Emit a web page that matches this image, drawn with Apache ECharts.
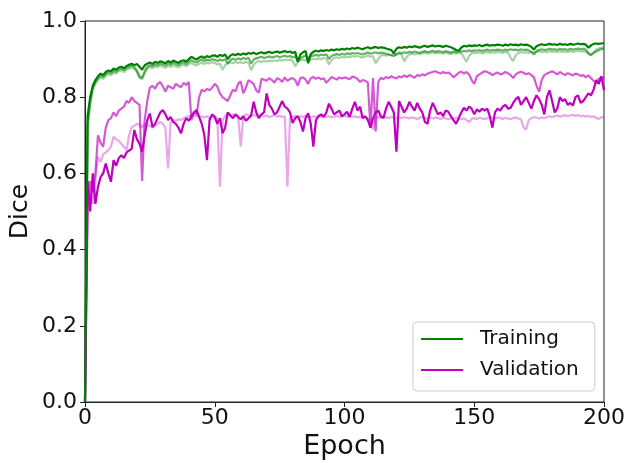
<!DOCTYPE html>
<html>
<head>
<meta charset="utf-8">
<script src="https://cdn.jsdelivr.net/npm/echarts@6/dist/echarts.min.js"></script>
<style>html,body{margin:0;padding:0;background:#fff;}#c{width:629px;height:463px;}</style>
</head>
<body>
<div id="c"></div>
<script>
// Epoch index = array position (0..200)
const xTicks = [0, 50, 100, 150, 200];
const yTicks = [0.0, 0.2, 0.4, 0.6, 0.8, 1.0];

const trainDark = [
0.00,0.75,0.80,0.83,0.845,0.855,0.862,0.858,0.866,0.870,
0.868,0.875,0.872,0.878,0.880,0.876,0.882,0.885,0.888,0.884,
0.887,0.880,0.872,0.884,0.888,0.891,0.887,0.893,0.890,0.894,
0.892,0.889,0.895,0.891,0.896,0.893,0.890,0.895,0.897,0.893,
0.900,0.906,0.902,0.899,0.904,0.907,0.903,0.908,0.905,0.909,
0.910,0.906,0.911,0.908,0.912,0.900,0.909,0.913,0.910,0.914,
0.911,0.915,0.912,0.916,0.914,0.917,0.913,0.916,0.918,0.915,
0.917,0.919,0.916,0.918,0.920,0.917,0.919,0.921,0.918,0.920,
0.916,0.919,0.893,0.912,0.918,0.921,0.889,0.913,0.919,0.922,
0.920,0.923,0.921,0.924,0.922,0.925,0.923,0.926,0.924,0.927,
0.925,0.928,0.926,0.929,0.927,0.930,0.928,0.926,0.929,0.931,
0.928,0.930,0.932,0.929,0.931,0.930,0.928,0.926,0.924,0.915,
0.927,0.931,0.929,0.932,0.930,0.933,0.931,0.934,0.932,0.930,
0.933,0.935,0.932,0.934,0.936,0.933,0.935,0.934,0.932,0.935,
0.933,0.931,0.928,0.924,0.922,0.930,0.935,0.933,0.936,0.934,
0.936,0.935,0.937,0.934,0.936,0.938,0.935,0.937,0.936,0.938,
0.937,0.935,0.938,0.936,0.939,0.937,0.938,0.936,0.939,0.937,
0.938,0.936,0.932,0.925,0.934,0.937,0.939,0.937,0.938,0.940,
0.938,0.939,0.937,0.940,0.938,0.939,0.937,0.940,0.938,0.939,
0.941,0.939,0.940,0.938,0.930,0.936,0.940,0.941,0.940,0.941,
0.942];

const trainMid = [
0.00,0.73,0.79,0.825,0.84,0.85,0.857,0.853,0.861,0.865,
0.863,0.869,0.867,0.873,0.875,0.871,0.877,0.880,0.883,0.879,
0.870,0.855,0.850,0.868,0.880,0.884,0.881,0.886,0.884,0.888,
0.886,0.883,0.889,0.885,0.890,0.887,0.884,0.889,0.891,0.887,
0.893,0.897,0.894,0.891,0.896,0.899,0.895,0.899,0.896,0.900,
0.898,0.895,0.899,0.896,0.900,0.888,0.897,0.901,0.898,0.902,
0.899,0.903,0.900,0.904,0.888,0.899,0.902,0.904,0.906,0.903,
0.905,0.907,0.904,0.906,0.908,0.905,0.907,0.909,0.906,0.908,
0.904,0.907,0.895,0.902,0.906,0.909,0.903,0.907,0.909,0.911,
0.909,0.912,0.910,0.913,0.900,0.908,0.911,0.913,0.911,0.914,
0.912,0.915,0.913,0.916,0.914,0.916,0.914,0.912,0.915,0.917,
0.914,0.916,0.918,0.915,0.917,0.916,0.914,0.912,0.910,0.908,
0.913,0.917,0.915,0.918,0.916,0.919,0.917,0.920,0.918,0.916,
0.919,0.921,0.918,0.920,0.922,0.919,0.921,0.920,0.918,0.921,
0.919,0.917,0.920,0.918,0.921,0.919,0.922,0.920,0.923,0.921,
0.923,0.922,0.924,0.921,0.923,0.925,0.922,0.924,0.923,0.925,
0.924,0.922,0.925,0.923,0.926,0.924,0.925,0.923,0.926,0.924,
0.925,0.923,0.919,0.912,0.921,0.924,0.926,0.924,0.925,0.927,
0.925,0.926,0.924,0.927,0.925,0.926,0.924,0.927,0.925,0.926,
0.928,0.926,0.927,0.925,0.914,0.910,0.916,0.920,0.924,0.926,
0.927];

const trainLight = [
0.00,0.72,0.78,0.82,0.835,0.845,0.852,0.848,0.856,0.860,
0.858,0.864,0.862,0.868,0.870,0.866,0.872,0.875,0.878,0.874,
0.866,0.850,0.848,0.862,0.875,0.879,0.876,0.881,0.879,0.883,
0.880,0.877,0.883,0.879,0.884,0.881,0.878,0.883,0.885,0.881,
0.887,0.890,0.886,0.883,0.888,0.891,0.887,0.891,0.888,0.892,
0.890,0.886,0.889,0.872,0.884,0.889,0.892,0.889,0.893,0.890,
0.892,0.889,0.893,0.890,0.871,0.885,0.892,0.895,0.892,0.896,
0.893,0.896,0.894,0.897,0.895,0.898,0.896,0.899,0.897,0.899,
0.895,0.881,0.892,0.897,0.899,0.896,0.900,0.898,0.901,0.899,
0.902,0.900,0.903,0.901,0.886,0.897,0.903,0.905,0.903,0.906,
0.904,0.907,0.905,0.908,0.906,0.908,0.906,0.904,0.907,0.909,
0.906,0.908,0.889,0.900,0.909,0.911,0.909,0.912,0.910,0.913,
0.911,0.914,0.912,0.894,0.906,0.912,0.914,0.912,0.915,0.913,
0.915,0.917,0.914,0.916,0.918,0.915,0.917,0.916,0.914,0.917,
0.915,0.913,0.916,0.914,0.917,0.915,0.905,0.893,0.908,0.915,
0.917,0.916,0.918,0.915,0.917,0.919,0.916,0.918,0.917,0.919,
0.918,0.916,0.919,0.917,0.904,0.895,0.910,0.916,0.919,0.917,
0.918,0.916,0.919,0.917,0.919,0.921,0.918,0.920,0.918,0.921,
0.919,0.920,0.918,0.921,0.919,0.920,0.918,0.921,0.919,0.920,
0.922,0.920,0.921,0.919,0.916,0.912,0.918,0.925,0.928,0.930,
0.931];

const valMid = [
0.00,0.52,0.58,0.55,0.60,0.70,0.68,0.67,0.72,0.74,
0.745,0.76,0.75,0.765,0.77,0.775,0.79,0.785,0.80,0.79,
0.785,0.78,0.58,0.74,0.79,0.825,0.83,0.822,0.835,0.84,
0.828,0.815,0.83,0.826,0.822,0.835,0.83,0.826,0.838,0.832,
0.84,0.74,0.76,0.755,0.80,0.82,0.815,0.822,0.818,0.825,
0.835,0.828,0.81,0.80,0.795,0.79,0.805,0.82,0.815,0.835,
0.842,0.81,0.825,0.845,0.84,0.835,0.818,0.812,0.848,0.846,
0.843,0.85,0.845,0.838,0.85,0.847,0.84,0.852,0.843,0.848,
0.85,0.845,0.83,0.85,0.852,0.846,0.835,0.85,0.853,0.848,
0.852,0.847,0.85,0.838,0.845,0.853,0.85,0.846,0.852,0.849,
0.852,0.85,0.847,0.854,0.852,0.848,0.84,0.845,0.843,0.838,
0.72,0.85,0.71,0.84,0.851,0.847,0.853,0.85,0.855,0.852,
0.849,0.855,0.852,0.857,0.853,0.858,0.855,0.851,0.858,0.856,
0.86,0.857,0.862,0.864,0.866,0.868,0.865,0.862,0.866,0.863,
0.865,0.86,0.852,0.858,0.864,0.867,0.862,0.866,0.86,0.845,
0.835,0.855,0.86,0.864,0.868,0.866,0.863,0.858,0.862,0.865,
0.86,0.862,0.866,0.863,0.858,0.85,0.86,0.864,0.867,0.864,
0.86,0.863,0.858,0.852,0.83,0.814,0.845,0.858,0.862,0.865,
0.868,0.864,0.86,0.866,0.862,0.858,0.863,0.86,0.857,0.862,
0.86,0.856,0.858,0.852,0.857,0.85,0.843,0.836,0.848,0.853,
0.85];

const valDark = [
0.00,0.58,0.50,0.60,0.52,0.565,0.59,0.60,0.626,0.60,
0.578,0.635,0.62,0.64,0.648,0.64,0.655,0.66,0.665,0.714,
0.69,0.678,0.657,0.70,0.74,0.757,0.722,0.73,0.745,0.76,
0.766,0.755,0.74,0.748,0.735,0.73,0.72,0.705,0.73,0.745,
0.738,0.75,0.76,0.766,0.748,0.73,0.70,0.635,0.74,0.755,
0.748,0.73,0.745,0.705,0.72,0.76,0.752,0.745,0.755,0.748,
0.742,0.75,0.738,0.745,0.752,0.788,0.76,0.745,0.755,0.76,
0.81,0.78,0.77,0.755,0.76,0.775,0.79,0.775,0.77,0.76,
0.732,0.745,0.75,0.735,0.71,0.745,0.758,0.73,0.67,0.74,
0.75,0.755,0.748,0.76,0.783,0.77,0.755,0.76,0.765,0.75,
0.755,0.762,0.748,0.77,0.788,0.765,0.775,0.745,0.75,0.74,
0.72,0.745,0.76,0.765,0.75,0.745,0.77,0.788,0.775,0.76,
0.657,0.79,0.775,0.76,0.77,0.788,0.775,0.765,0.785,0.77,
0.76,0.735,0.73,0.765,0.785,0.77,0.755,0.76,0.75,0.765,
0.762,0.75,0.74,0.73,0.745,0.76,0.772,0.765,0.775,0.77,
0.755,0.768,0.762,0.77,0.765,0.77,0.75,0.72,0.76,0.77,
0.765,0.775,0.78,0.77,0.772,0.785,0.795,0.801,0.78,0.79,
0.80,0.785,0.77,0.79,0.805,0.795,0.78,0.755,0.80,0.818,
0.79,0.76,0.77,0.80,0.79,0.795,0.78,0.785,0.778,0.80,
0.805,0.785,0.79,0.80,0.81,0.805,0.82,0.845,0.835,0.855,
0.818];

const valLight = [
0.00,0.50,0.56,0.52,0.58,0.644,0.63,0.65,0.655,0.661,
0.67,0.696,0.69,0.685,0.678,0.67,0.661,0.70,0.722,0.725,
0.73,0.728,0.72,0.73,0.727,0.725,0.72,0.725,0.73,0.735,
0.73,0.72,0.613,0.735,0.74,0.738,0.742,0.74,0.745,0.748,
0.75,0.753,0.75,0.752,0.748,0.75,0.747,0.75,0.745,0.748,
0.75,0.745,0.565,0.74,0.75,0.758,0.752,0.755,0.75,0.752,
0.67,0.748,0.755,0.752,0.75,0.754,0.751,0.749,0.753,0.75,
0.752,0.748,0.75,0.753,0.749,0.751,0.748,0.75,0.565,0.745,
0.748,0.751,0.747,0.75,0.748,0.752,0.749,0.747,0.75,0.748,
0.751,0.749,0.752,0.748,0.75,0.747,0.749,0.751,0.748,0.75,
0.752,0.749,0.751,0.748,0.75,0.747,0.749,0.746,0.748,0.745,
0.74,0.715,0.745,0.748,0.746,0.749,0.747,0.745,0.748,0.746,
0.744,0.747,0.745,0.748,0.746,0.744,0.747,0.745,0.743,0.746,
0.748,0.745,0.743,0.746,0.744,0.747,0.745,0.743,0.746,0.744,
0.742,0.745,0.743,0.746,0.744,0.742,0.745,0.74,0.735,0.743,
0.745,0.743,0.746,0.744,0.742,0.745,0.748,0.746,0.744,0.747,
0.745,0.743,0.746,0.744,0.742,0.745,0.747,0.744,0.742,0.72,
0.715,0.74,0.745,0.748,0.746,0.744,0.747,0.745,0.748,0.75,
0.748,0.75,0.752,0.749,0.751,0.753,0.75,0.752,0.754,0.751,
0.753,0.75,0.752,0.749,0.751,0.748,0.75,0.745,0.743,0.748,
0.746];

function pts(arr){ return arr.map(function(v,i){ return [i, v]; }); }
function line(name, arr, color, width, z){
  return { name: name, type: 'line', data: pts(arr), showSymbol: false, symbol: 'none',
    lineStyle: { color: color, width: width }, itemStyle: { color: color },
    z: z, silent: true, animation: false };
}

const FONT = 'DejaVu Sans';
const chart = echarts.init(document.getElementById('c'), null, { renderer: 'canvas' });
chart.setOption({
  backgroundColor: '#fff',
  animation: false,
  grid: { left: 85, right: 25, top: 21, bottom: 61, containLabel: false, outerBoundsMode: 'none',
    show: true, borderColor: '#222', borderWidth: 1, backgroundColor: 'transparent' },
  xAxis: {
    type: 'value', min: 0, max: 200, interval: 50,
    name: 'Epoch', nameLocation: 'middle', nameGap: 28,
    nameTextStyle: { fontFamily: FONT, fontSize: 27, color: '#111' },
    axisLine: { show: true, lineStyle: { color: '#222', width: 1 } },
    axisTick: { show: true, inside: false, length: 5, lineStyle: { color: '#222' } },
    axisLabel: { fontFamily: FONT, fontSize: 22, color: '#111', margin: 5,
      customValues: xTicks },
    splitLine: { show: false }
  },
  yAxis: {
    type: 'value', min: 0, max: 1, interval: 0.2,
    name: 'Dice', nameLocation: 'middle', nameGap: 52, nameMoveOverlap: false,
    nameTextStyle: { fontFamily: FONT, fontSize: 25, color: '#111' },
    axisLine: { show: true, lineStyle: { color: '#222', width: 1 } },
    axisTick: { show: true, inside: false, length: 5, lineStyle: { color: '#222' } },
    axisLabel: { fontFamily: FONT, fontSize: 22, color: '#111', margin: 8,
      formatter: function(v){ return v.toFixed(1); } },
    splitLine: { show: false }
  },
  legend: {
    data: ['Training', 'Validation'],
    orient: 'vertical', left: 413, top: 322,
    icon: 'rect', itemWidth: 42, itemHeight: 2, itemGap: 7,
    padding: [5, 16, 9, 8],
    backgroundColor: 'rgba(255,255,255,0.85)',
    borderColor: '#ccc', borderWidth: 1, borderRadius: 4,
    textStyle: { fontFamily: FONT, fontSize: 20, color: '#111', padding: [0, 0, 0, 12], lineHeight: 24 },
    selectedMode: false
  },
  series: [
    line('tl', trainLight, 'rgba(0,128,0,0.35)', 2.2, 1),
    line('tm', trainMid, 'rgba(0,128,0,0.6)', 2.2, 2),
    line('vl', valLight, 'rgba(191,0,191,0.35)', 2.2, 3),
    line('vm', valMid, 'rgba(191,0,191,0.65)', 2.2, 4),
    line('Validation', valDark, '#bf00bf', 2.2, 5),
    line('Training', trainDark, '#008000', 2.2, 6)
  ]
});
</script>
</body>
</html>
